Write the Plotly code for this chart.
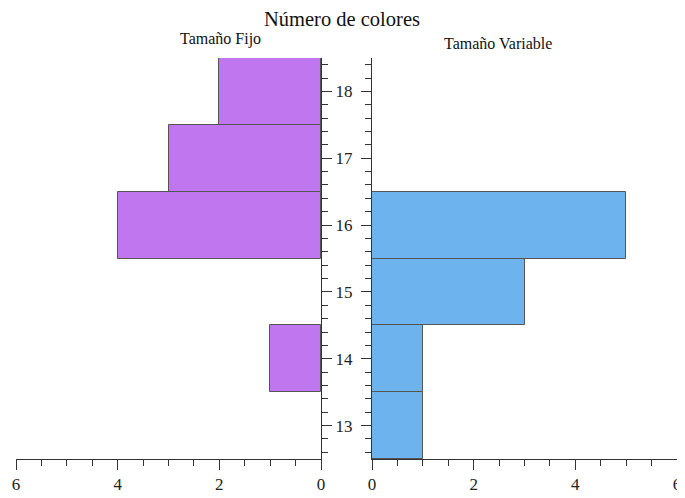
import plotly.graph_objects as go

title = "Número de colores"
left_title = "Tamaño Fijo"
right_title = "Tamaño Variable"

fijo_y = [14, 16, 17, 18]
fijo_x = [1, 4, 3, 2]
var_y = [13, 14, 15, 16]
var_x = [1, 1, 3, 5]

purple = "#C076EE"
blue = "#6DB4EE"
font_family = "Liberation Serif"

# page body has an 8px margin; figure sized to fill the rest of the window
OFF = 8
W, H = 685 - OFF, 498 - OFF
ml, mr, mt, mb = 16 - OFF, 8, 58 - OFF, 39
pw = W - ml - mr
ph = H - mt - mb

def px(x):
    return (x - OFF - ml) / pw

def py(y):
    return 1 + (mt - (y - OFF)) / ph

fig = go.Figure()
fig.add_trace(go.Bar(x=fijo_x, y=fijo_y, orientation="h", width=1,
                     marker=dict(color=purple, line=dict(color="#555555", width=1)),
                     xaxis="x", yaxis="y", showlegend=False))
fig.add_trace(go.Bar(x=var_x, y=var_y, orientation="h", width=1,
                     marker=dict(color=blue, line=dict(color="#555555", width=1)),
                     xaxis="x2", yaxis="y2", showlegend=False))

axis_common = dict(showgrid=False, zeroline=False, showline=True, linecolor="#333333",
                   linewidth=1, ticks="outside", tickcolor="#333333", automargin=False,
                   tickfont=dict(family=font_family, size=17, color="#222222"))

fig.update_layout(
    width=W, height=H,
    margin=dict(l=ml, r=mr, t=mt, b=mb, autoexpand=False),
    plot_bgcolor="white", paper_bgcolor="white",
    font=dict(family=font_family, color="#222222"),
    bargap=0,
    xaxis=dict(domain=[0, px(321)], range=[6, 0], dtick=2, ticklen=10,
               minor=dict(dtick=0.5, ticks="outside", ticklen=6, tickcolor="#333333"),
               anchor="y", **axis_common),
    xaxis2=dict(domain=[px(372), 1], range=[0, 6], dtick=2, ticklen=10,
                minor=dict(dtick=0.5, ticks="outside", ticklen=6, tickcolor="#333333"),
                anchor="y2", **axis_common),
    yaxis=dict(range=[12.5, 18.5], dtick=1, side="right", anchor="x", ticklen=10,
               minor=dict(dtick=0.2, ticks="outside", ticklen=6, tickcolor="#333333"),
               **axis_common),
    yaxis2=dict(range=[12.5, 18.5], dtick=1, side="left", anchor="x2", ticklen=10,
                matches="y", showticklabels=False,
                minor=dict(dtick=0.2, ticks="outside", ticklen=6, tickcolor="#333333"),
                **axis_common),
    annotations=[
        dict(text=title, x=px(342), y=py(19), xref="paper", yref="paper", showarrow=False,
             xanchor="center", yanchor="middle",
             font=dict(family=font_family, size=20.5, color="#111111")),
        dict(text=left_title, x=px(220), y=py(39), xref="paper", yref="paper", showarrow=False,
             xanchor="center", yanchor="middle",
             font=dict(family=font_family, size=16, color="#111111")),
        dict(text=right_title, x=px(498), y=py(44), xref="paper", yref="paper", showarrow=False,
             xanchor="center", yanchor="middle",
             font=dict(family=font_family, size=16, color="#111111")),
    ],
)

fig.write_html("out.html")
